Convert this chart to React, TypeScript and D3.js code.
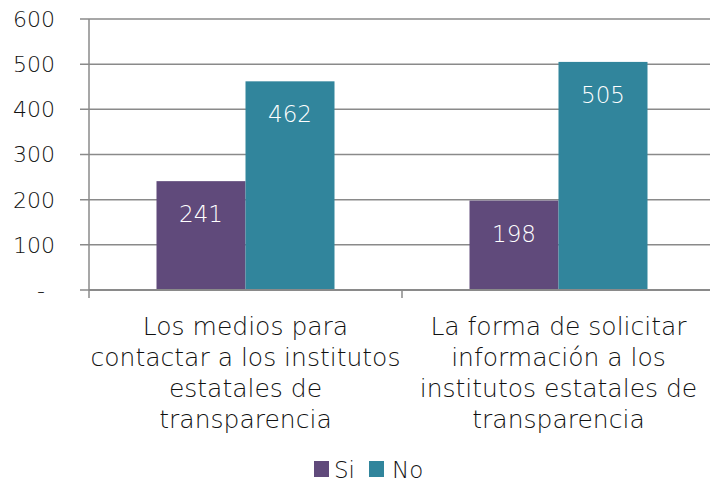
import * as d3 from "d3";
import { useEffect, useRef } from "react";

const categories = [
  ["Los medios para", "contactar a los institutos", "estatales de", "transparencia"],
  ["La forma de solicitar", "información a los", "institutos estatales de", "transparencia"],
];
const seriesNames = ["Si", "No"];
const siValues = [241, 198];
const noValues = [462, 505];
const yTicks = [0, 100, 200, 300, 400, 500, 600];

const colors = ["#604A7B", "#31859C"];
const FONT = "'Century Gothic', 'DejaVu Sans', sans-serif";
const WEIGHT = 300;

const App = () => {
  const ref = useRef<SVGSVGElement>(null);

  useEffect(() => {
    const svg = d3.select(ref.current);
    svg.selectAll("*").remove();

    const margin = { top: 19, left: 89, bottom: 199, right: -5 };
    const width = 710 - margin.left - margin.right;
    const height = 489 - margin.top - margin.bottom;

    const x0 = d3.scaleBand().domain(["0", "1"]).range([0, width]);
    const x1 = d3.scaleBand().domain(seriesNames).range([67.5, x0.bandwidth() - 67.5]);
    const y = d3.scaleLinear().domain([0, 600]).range([height, 0]);

    const g = svg.append("g")
      .attr("transform", `translate(${margin.left},${margin.top})`)
      .attr("font-family", FONT)
      .attr("font-weight", WEIGHT);

    // grid
    g.selectAll("line.grid")
      .data(yTicks)
      .join("line")
      .attr("x1", -9)
      .attr("x2", width)
      .attr("y1", (d) => y(d))
      .attr("y2", (d) => y(d))
      .attr("stroke", "#8a8a8a")
      .attr("stroke-width", 1.5);

    // y labels
    g.selectAll("text.ytick")
      .data(yTicks)
      .join("text")
      .attr("x", -34)
      .attr("y", (d) => y(d))
      .attr("dy", "0.36em")
      .attr("text-anchor", "end")
      .attr("font-size", 22)
      .attr("fill", "#111")
      .text((d) => (d === 0 ? "-" : String(d)))
      .attr("dx", (d) => (d === 0 ? -10 : 0));

    const data = categories.map((c, i) => ({ key: String(i), vals: [siValues[i], noValues[i]] }));

    const groups = g.selectAll("g.cat").data(data).join("g")
      .attr("transform", (d) => `translate(${x0(d.key)},0)`);

    groups.selectAll("rect")
      .data((d) => d.vals.map((v, j) => ({ name: seriesNames[j], v, j })))
      .join("rect")
      .attr("x", (d) => x1(d.name)!)
      .attr("width", x1.bandwidth())
      .attr("y", (d) => y(d.v))
      .attr("height", (d) => height - y(d.v))
      .attr("fill", (d) => colors[d.j]);

    groups.selectAll("text.val")
      .data((d) => d.vals.map((v, j) => ({ name: seriesNames[j], v, j })))
      .join("text")
      .attr("x", (d) => x1(d.name)! + x1.bandwidth() / 2)
      .attr("y", (d) => y(d.v) + 41)
      .attr("text-anchor", "middle")
      .attr("font-size", 23)
      .attr("fill", "#ffffff")
      .text((d) => d.v);

    // axes lines
    g.append("line")
      .attr("x1", 0).attr("x2", 0)
      .attr("y1", 0).attr("y2", height + 8)
      .attr("stroke", "#8a8a8a").attr("stroke-width", 1.5);
    g.append("line")
      .attr("x1", 0).attr("x2", width)
      .attr("y1", height).attr("y2", height)
      .attr("stroke", "#8a8a8a").attr("stroke-width", 2);
    [1].forEach((i) => {
      g.append("line")
        .attr("x1", x0.step() * i).attr("x2", x0.step() * i)
        .attr("y1", height).attr("y2", height + 8)
        .attr("stroke", "#8a8a8a").attr("stroke-width", 1.5);
    });

    // category labels
    groups.each(function (d, i) {
      const t = d3.select(this).append("text")
        .attr("text-anchor", "middle")
        .attr("font-size", 25)
        .attr("fill", "#111");
      categories[i].forEach((line, k) => {
        t.append("tspan")
          .attr("x", x0.bandwidth() / 2)
          .attr("y", height + 45 + k * 31)
          .text(line);
      });
    });

    // legend
    const legend = svg.append("g")
      .attr("transform", "translate(314,461)")
      .attr("font-family", FONT)
      .attr("font-weight", WEIGHT);
    const items = [
      { name: seriesNames[0], x: 0, tx: 20 },
      { name: seriesNames[1], x: 55, tx: 78 },
    ];
    items.forEach((it, i) => {
      legend.append("rect").attr("x", it.x).attr("y", 0).attr("width", 15).attr("height", 16).attr("fill", colors[i]);
      legend.append("text")
        .attr("x", it.tx).attr("y", 17)
        .attr("font-size", 23)
        .attr("fill", "#111")
        .text(it.name);
    });
  }, []);

  return (
    <svg ref={ref} width={710} height={489} style={{ position: "absolute", left: 0, top: 0 }} />
  );
};

export default App;
